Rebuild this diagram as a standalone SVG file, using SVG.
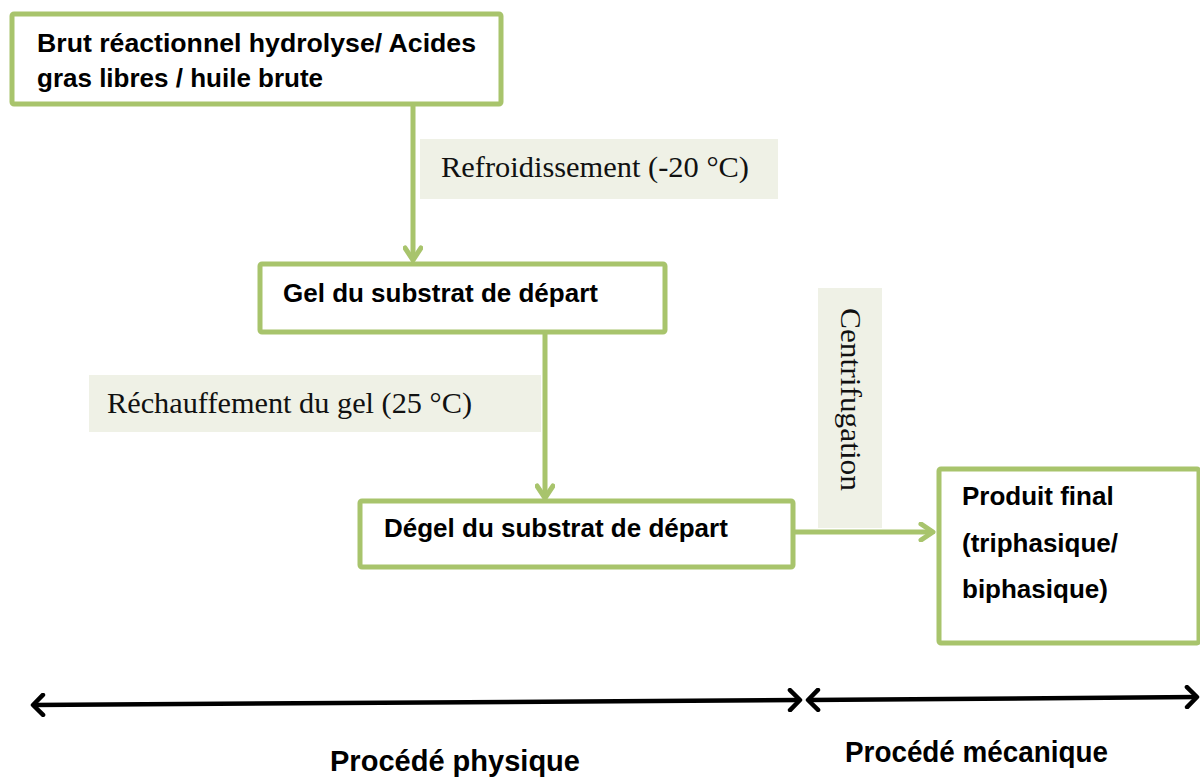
<svg xmlns="http://www.w3.org/2000/svg" width="1200" height="778" viewBox="0 0 1200 778">
<defs>
<style>
.box{fill:#fff;stroke:#a8c46c;stroke-width:5;}
.bt{font-family:"Liberation Sans",Arial,sans-serif;font-weight:bold;font-size:26px;fill:#000;}
.lbl{fill:#eff1e6;}
.lt{font-family:"Liberation Serif","Times New Roman",serif;font-size:30px;fill:#111;}
.conn{fill:none;stroke:#a8c46c;stroke-width:5;}
.axis{fill:none;stroke:#000;stroke-width:4.5;}
.pt{font-family:"Liberation Sans",Arial,sans-serif;font-weight:bold;font-size:29px;fill:#000;}
</style>
<marker id="ga" viewBox="0 0 20 20" refX="16" refY="10" markerWidth="20" markerHeight="20" markerUnits="userSpaceOnUse" orient="auto">
<path d="M4,2 L16,10 L4,18" fill="none" stroke="#a8c46c" stroke-width="5" stroke-linecap="round" stroke-linejoin="round"/>
</marker>
<marker id="ba" viewBox="0 0 20 24" refX="16" refY="12" markerWidth="20" markerHeight="24" markerUnits="userSpaceOnUse" orient="auto-start-reverse">
<path d="M6,2 L16,12 L6,22" fill="none" stroke="#000" stroke-width="4.5" stroke-linecap="round" stroke-linejoin="round"/>
</marker>
</defs>
<rect width="1200" height="778" fill="#fff"/>

<g id="labels">
<rect class="lbl" x="420" y="139" width="358" height="60"/>
<text class="lt" x="441" y="177" textLength="308" lengthAdjust="spacingAndGlyphs">Refroidissement (-20 °C)</text>
<rect class="lbl" x="89" y="375" width="452" height="57"/>
<text class="lt" x="107" y="413" textLength="365" lengthAdjust="spacingAndGlyphs">Réchauffement du gel (25 °C)</text>
<rect class="lbl" x="818" y="288" width="64" height="240"/>
<text class="lt" transform="translate(841,308) rotate(90)" x="0" y="0" textLength="183" lengthAdjust="spacingAndGlyphs">Centrifugation</text>
</g>

<g id="connectors">
<line class="conn" x1="413" y1="105" x2="413" y2="260" marker-end="url(#ga)"/>
<line class="conn" x1="545" y1="332" x2="545" y2="498" marker-end="url(#ga)"/>
<line class="conn" x1="795" y1="532" x2="933" y2="532" marker-end="url(#ga)"/>
</g>

<g id="n1">
<rect class="box" x="12" y="14" width="489" height="90" rx="2"/>
<text class="bt" x="37" y="52" textLength="439" lengthAdjust="spacingAndGlyphs">Brut réactionnel hydrolyse/ Acides</text>
<text class="bt" x="37" y="87">gras libres / huile brute</text>
</g>
<g id="n2">
<rect class="box" x="260" y="264" width="405" height="68" rx="2"/>
<text class="bt" x="283" y="302">Gel du substrat de départ</text>
</g>
<g id="n3">
<rect class="box" x="360" y="501" width="433" height="66" rx="2"/>
<text class="bt" x="384" y="537">Dégel du substrat de départ</text>
</g>
<g id="n4">
<rect class="box" x="939" y="469" width="260" height="174" rx="2"/>
<text class="bt" x="962" y="505">Produit final</text>
<text class="bt" x="962" y="552">(triphasique/</text>
<text class="bt" x="962" y="598">biphasique)</text>
</g>

<g id="axis">
<line class="axis" x1="33" y1="705" x2="800" y2="700" marker-start="url(#ba)" marker-end="url(#ba)"/>
<line class="axis" x1="808" y1="700" x2="1197" y2="697" marker-start="url(#ba)" marker-end="url(#ba)"/>
<text class="pt" x="330" y="771" textLength="250" lengthAdjust="spacingAndGlyphs">Procédé physique</text>
<text class="pt" x="845" y="762" textLength="263" lengthAdjust="spacingAndGlyphs">Procédé mécanique</text>
</g>
</svg>
